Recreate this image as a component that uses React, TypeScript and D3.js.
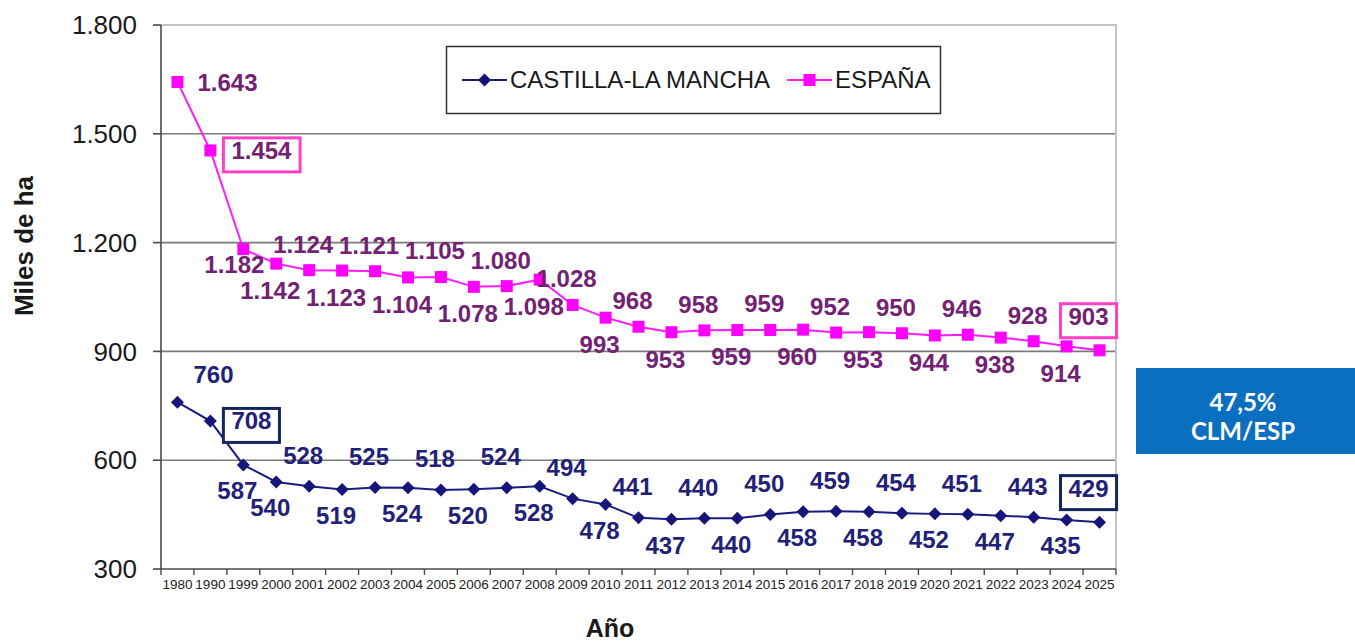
import { useEffect, useRef } from 'react';
import * as d3 from 'd3';

const years = [
  '1980', '1990', '1999', '2000', '2001', '2002', '2003', '2004', '2005', '2006',
  '2007', '2008', '2009', '2010', '2011', '2012', '2013', '2014', '2015', '2016',
  '2017', '2018', '2019', '2020', '2021', '2022', '2023', '2024', '2025',
];

const clmValues = [
  760, 708, 587, 540, 528, 519, 525, 524, 518, 520,
  524, 528, 494, 478, 441, 437, 440, 440, 450, 458,
  459, 458, 454, 452, 451, 447, 443, 435, 429,
];

const espValues = [
  1643, 1454, 1182, 1142, 1124, 1123, 1121, 1104, 1105, 1078,
  1080, 1098, 1028, 993, 968, 953, 958, 959, 959, 960,
  952, 953, 950, 944, 946, 938, 928, 914, 903,
];

// where each value label sits relative to its point
const clmLabelPos = [
  'ar', 'box', 'b', 'b', 'a', 'b', 'a', 'b', 'a', 'b',
  'a', 'b', 'a', 'b', 'a', 'b', 'a', 'b', 'a', 'b',
  'a', 'b', 'a', 'b', 'a', 'b', 'a', 'b', 'boxa',
];
const espLabelPos = [
  'r', 'box', 'bl', 'b', 'a', 'b', 'a', 'b', 'a', 'b',
  'a', 'b', 'a', 'b', 'a', 'b', 'a', 'b', 'a', 'b',
  'a', 'b', 'a', 'b', 'a', 'b', 'a', 'b', 'boxa',
];

const yTicks = [300, 600, 900, 1200, 1500, 1800];
const seriesNames = ['CASTILLA-LA MANCHA', 'ESPAÑA'];
const ratioLines = ['47,5%', 'CLM/ESP'];

const FONT = 'Liberation Sans, Arial, sans-serif';

const App = () => {
  const svgRef = useRef<SVGSVGElement | null>(null);
  const width = 1355;
  const height = 644;

  useEffect(() => {
    if (!svgRef.current) return;
    const svg = d3.select(svgRef.current);
    svg.selectAll('*').remove();

    const plot = { left: 161, right: 1116, top: 25, bottom: 569 };

    const x = d3.scaleBand<string>().domain(years).range([plot.left, plot.right]).padding(0);
    const y = d3.scaleLinear().domain([300, 1800]).range([plot.bottom, plot.top]);
    const cx = (yr: string) => (x(yr) || 0) + x.bandwidth() / 2;

    const es = d3.formatLocale({ decimal: ',', thousands: '.', grouping: [3], currency: ['', '€'] });
    const fmt = es.format(',d');

    // gridlines
    svg.append('g')
      .selectAll('line')
      .data(yTicks.filter(t => t > 300 && t < 1800))
      .enter()
      .append('line')
      .attr('x1', plot.left)
      .attr('x2', plot.right)
      .attr('y1', d => y(d))
      .attr('y2', d => y(d))
      .attr('stroke', '#7a7a7a')
      .attr('stroke-width', 1.6);

    // light frame on top and right
    svg.append('path')
      .attr('d', `M${plot.left},${y(1800)}H${plot.right}V${plot.bottom}`)
      .attr('fill', 'none')
      .attr('stroke', '#c4c4c4')
      .attr('stroke-width', 2);

    // y axis
    const yAxis = svg.append('g');
    yAxis.append('line')
      .attr('x1', plot.left).attr('x2', plot.left)
      .attr('y1', plot.top).attr('y2', plot.bottom)
      .attr('stroke', '#4a4a4a').attr('stroke-width', 1.6);
    yAxis.selectAll('line.tick')
      .data(yTicks)
      .enter()
      .append('line')
      .attr('class', 'tick')
      .attr('x1', plot.left - 8).attr('x2', plot.left)
      .attr('y1', d => y(d)).attr('y2', d => y(d))
      .attr('stroke', '#4a4a4a').attr('stroke-width', 1.6);
    yAxis.selectAll('text')
      .data(yTicks)
      .enter()
      .append('text')
      .attr('x', 137)
      .attr('y', d => y(d))
      .attr('dy', '0.35em')
      .attr('text-anchor', 'end')
      .style('font-family', FONT)
      .style('font-size', '26px')
      .style('fill', '#1a1a1a')
      .text(d => fmt(d));

    // x axis
    const xAxis = svg.append('g');
    xAxis.append('line')
      .attr('x1', plot.left).attr('x2', plot.right)
      .attr('y1', plot.bottom).attr('y2', plot.bottom)
      .attr('stroke', '#4a4a4a').attr('stroke-width', 1.6);
    const bounds = years.map(yr => x(yr) || 0).concat([plot.right]);
    xAxis.selectAll('line.tick')
      .data(bounds)
      .enter()
      .append('line')
      .attr('class', 'tick')
      .attr('x1', d => d).attr('x2', d => d)
      .attr('y1', plot.bottom).attr('y2', plot.bottom + 6)
      .attr('stroke', '#4a4a4a').attr('stroke-width', 1.4);
    xAxis.selectAll('text')
      .data(years)
      .enter()
      .append('text')
      .attr('x', d => cx(d))
      .attr('y', 589)
      .attr('text-anchor', 'middle')
      .style('font-family', FONT)
      .style('font-size', '13.5px')
      .style('fill', '#222')
      .text(d => d);

    // axis titles
    svg.append('text')
      .attr('transform', 'translate(33,246) rotate(-90)')
      .attr('text-anchor', 'middle')
      .style('font-family', FONT)
      .style('font-size', '26px')
      .style('font-weight', 'bold')
      .style('fill', '#1a1a1a')
      .text('Miles de ha');
    svg.append('text')
      .attr('x', 610)
      .attr('y', 637)
      .attr('text-anchor', 'middle')
      .style('font-family', FONT)
      .style('font-size', '25px')
      .style('font-weight', 'bold')
      .style('fill', '#1a1a1a')
      .text('Año');

    const diamond = (s: number) => `M0,${-s}L${s},0L0,${s}L${-s},0Z`;
    const square = (s: number) => `M${-s},${-s}H${s}V${s}H${-s}Z`;

    const series = [
      { values: espValues, pos: espLabelPos, line: '#ff1aff', marker: '#ff00ff', label: '#732172', box: '#ff3fc4', shape: square(6), up: 26, down: 27 },
      { values: clmValues, pos: clmLabelPos, line: '#1c1c80', marker: '#15157a', label: '#1f2278', box: '#15275c', shape: diamond(6.5), up: 31, down: 26 },
    ];

    series.forEach(s => {
      const pts = years.map((yr, i) => ({ yr, v: s.values[i], pos: s.pos[i] }));
      const line = d3.line<{ yr: string; v: number }>()
        .x(d => cx(d.yr))
        .y(d => y(d.v));

      svg.append('path')
        .datum(pts)
        .attr('fill', 'none')
        .attr('stroke', s.line)
        .attr('stroke-width', 2)
        .attr('d', line);

      svg.append('g')
        .selectAll('path')
        .data(pts)
        .enter()
        .append('path')
        .attr('transform', d => `translate(${cx(d.yr)},${y(d.v)})`)
        .attr('d', s.shape)
        .attr('fill', s.marker);

      const labels = svg.append('g');
      pts.forEach(d => {
        const px = cx(d.yr);
        const py = y(d.v);
        let tx = px - 6;
        let ty = py;
        let anchor = 'middle';
        if (d.pos === 'a') ty = py - s.up;
        else if (d.pos === 'b') ty = py + s.down;
        else if (d.pos === 'ar') { tx = px + 36; ty = py - 28; }
        else if (d.pos === 'r') { tx = px + 20; ty = py + 1; anchor = 'start'; }
        else if (d.pos === 'bl') { tx = px - 9; ty = py + 15; }
        else if (d.pos === 'box') { tx = px + 21; anchor = 'start'; }
        else if (d.pos === 'boxa') { tx = px - 11; ty = py - 34; }

        const t = labels.append('text')
          .attr('x', tx)
          .attr('y', ty)
          .attr('dy', '0.35em')
          .attr('text-anchor', anchor)
          .style('font-family', FONT)
          .style('font-size', '24px')
          .style('font-weight', 'bold')
          .style('fill', s.label)
          .text(fmt(d.v));

        if (d.pos === 'box' || d.pos === 'boxa') {
          const bb = (t.node() as SVGTextElement).getBBox();
          labels.insert('rect', 'text')
            .attr('x', bb.x - 8)
            .attr('y', bb.y + 1)
            .attr('width', bb.width + 16)
            .attr('height', bb.height + 7)
            .attr('fill', '#fff')
            .attr('stroke', s.box)
            .attr('stroke-width', 3);
        }
      });
    });

    // legend
    const legend = svg.append('g');
    legend.append('rect')
      .attr('x', 446.5).attr('y', 46.5)
      .attr('width', 494).attr('height', 67)
      .attr('fill', '#fff')
      .attr('stroke', '#333')
      .attr('stroke-width', 1.5);
    const legendItems = [
      { name: seriesNames[0], x0: 462, color: series[1].line, marker: series[1].marker, shape: series[1].shape },
      { name: seriesNames[1], x0: 787, color: series[0].line, marker: series[0].marker, shape: series[0].shape },
    ];
    legendItems.forEach(it => {
      legend.append('line')
        .attr('x1', it.x0).attr('x2', it.x0 + 45)
        .attr('y1', 80).attr('y2', 80)
        .attr('stroke', it.color).attr('stroke-width', 2);
      legend.append('path')
        .attr('transform', `translate(${it.x0 + 22.5},80)`)
        .attr('d', it.shape)
        .attr('fill', it.marker);
      legend.append('text')
        .attr('x', it.x0 + 48)
        .attr('y', 88)
        .style('font-family', FONT)
        .style('font-size', '24px')
        .style('fill', '#1a1a1a')
        .text(it.name);
    });

    // ratio box
    svg.append('rect')
      .attr('x', 1136).attr('y', 368)
      .attr('width', 219).attr('height', 86)
      .attr('fill', '#0b6fbf');
    svg.append('g')
      .selectAll('text')
      .data(ratioLines)
      .enter()
      .append('text')
      .attr('x', 1243)
      .attr('y', (_, i) => 411 + i * 29)
      .attr('text-anchor', 'middle')
      .style('font-family', 'Lato, sans-serif')
      .style('font-size', '24px')
      .style('font-weight', 'bold')
      .style('fill', '#fff')
      .text(d => d);
  }, []);

  return (
    <svg
      ref={svgRef}
      width={width}
      height={height}
      style={{ position: 'absolute', left: 0, top: 0, display: 'block', background: '#fff' }}
    />
  );
};

export default App;
